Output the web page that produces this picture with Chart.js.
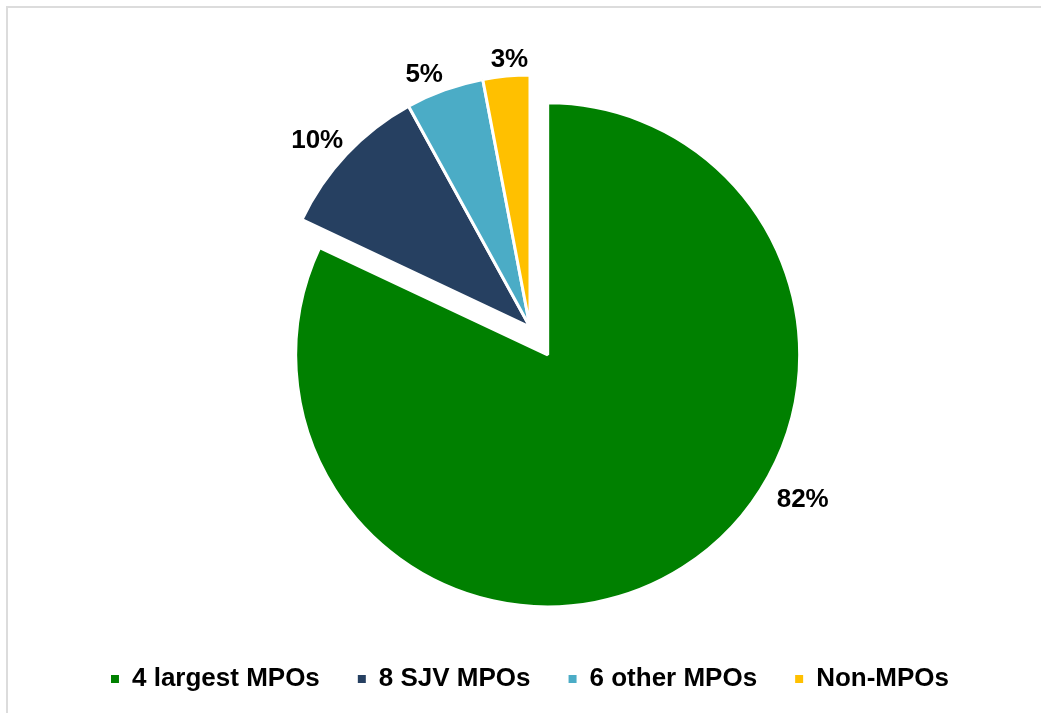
<!DOCTYPE html>
<html>
<head>
<meta charset="utf-8">
<script src="https://cdn.jsdelivr.net/npm/chart.js@4"></script>
<style>
  html, body { margin: 0; padding: 0; background: #fff; }
  #wrap { position: relative; width: 1041px; height: 713px; overflow: hidden; }
  #frame { position: absolute; left: 6px; top: 6px; width: 1100px; height: 800px;
           border: 2px solid #dcdcdc; box-sizing: border-box; pointer-events: none; }
  canvas { position: absolute; left: 0; top: 0; }
</style>
</head>
<body>
<div id="wrap">
  <div id="frame"></div>
  <canvas id="pieCanvas" width="1041" height="713"></canvas>
</div>
<script>
const categories = ["4 largest MPOs", "8 SJV MPOs", "6 other MPOs", "Non-MPOs"];
const shares = [82, 10, 5, 3];
const colors = ["#008000", "#264061", "#4bacc6", "#ffc000"];

const FONT = "'Liberation Sans', Arial, sans-serif";

// pulls a slice out along its middle angle (Excel-style explosion)
const explodePlugin = {
  id: "explode",
  afterDatasetsUpdate(chart, args, opts) {
    const meta = chart.getDatasetMeta(0);
    meta.data.forEach((arc, i) => {
      const off = (opts.offsets || [])[i] || 0;
      if (!off) return;
      const mid = (arc.startAngle + arc.endAngle) / 2;
      arc.x += Math.cos(mid) * off;
      arc.y += Math.sin(mid) * off;
    });
  }
};

// percentage labels outside each slice
const outsideLabels = {
  id: "outsideLabels",
  afterDatasetsDraw(chart, args, opts) {
    const ctx = chart.ctx;
    const meta = chart.getDatasetMeta(0);
    const values = chart.data.datasets[0].data;
    ctx.save();
    ctx.font = opts.font;
    ctx.fillStyle = opts.color;
    ctx.textAlign = "center";
    ctx.textBaseline = "middle";
    meta.data.forEach((arc, i) => {
      const text = values[i] + "%";
      const shift = ((opts.shift || [])[i] || 0) * Math.PI / 180;
      const pad = (opts.pad || [])[i] || 0;
      const a = (arc.startAngle + arc.endAngle) / 2 + shift;
      const w = ctx.measureText(text).width;
      const h = opts.height;
      const c = Math.cos(a), s = Math.sin(a);
      const d = arc.outerRadius + pad + (w / 2) * Math.abs(c) + (h / 2) * Math.abs(s);
      ctx.fillText(text, arc.x + c * d, arc.y + s * d);
    });
    ctx.restore();
  }
};

const ctx = document.getElementById("pieCanvas").getContext("2d");

new Chart(ctx, {
  type: "pie",
  data: {
    labels: categories,
    datasets: [{
      data: shares,
      backgroundColor: colors,
      borderColor: "#ffffff",
      borderWidth: 3
    }]
  },
  options: {
    responsive: false,
    animation: false,
    radius: 252,
    layout: { padding: { top: 26, left: 19, right: 0, bottom: 11 } },
    plugins: {
      explode: { offsets: [33, 0, 0, 0] },
      outsideLabels: {
        font: "bold 26px " + FONT,
        color: "#000000",
        height: 19,
        pad: [14, 5, 5, 5],
        shift: [-28, -2, -3, 1]
      },
      tooltip: { enabled: false },
      legend: {
        position: "bottom",
        labels: {
          color: "#000000",
          font: { family: FONT, size: 26, weight: "bold" },
          boxWidth: 8,
          boxHeight: 8,
          padding: 38,
          generateLabels: (chart) =>
            Chart.overrides.pie.plugins.legend.labels.generateLabels(chart)
              .map((l) => ({ ...l, lineWidth: 0, strokeStyle: l.fillStyle }))
        }
      }
    }
  },
  plugins: [explodePlugin, outsideLabels]
});
</script>
</body>
</html>
